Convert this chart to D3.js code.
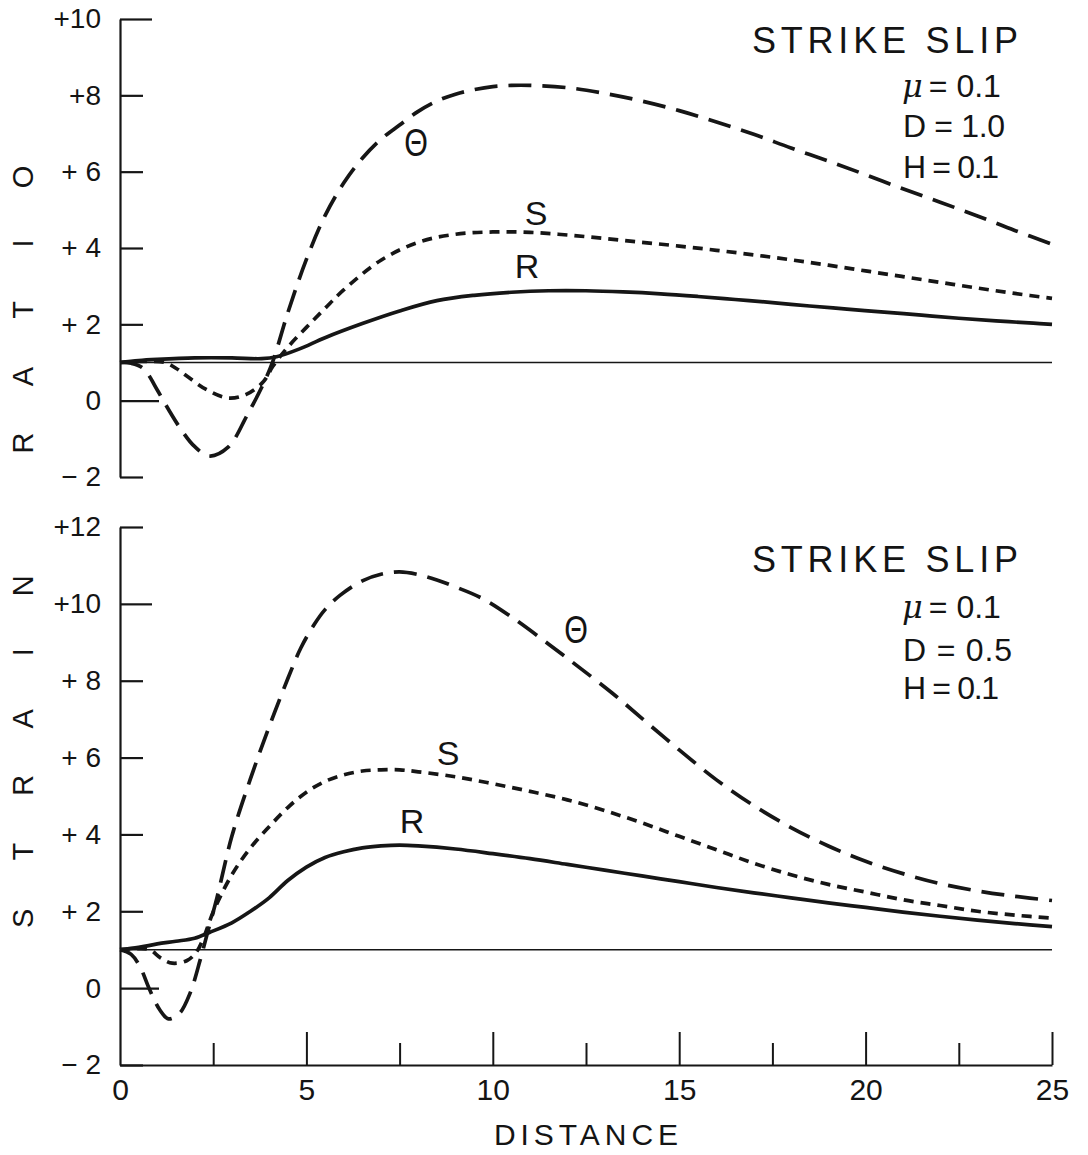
<!DOCTYPE html>
<html><head><meta charset="utf-8">
<script src="https://cdn.jsdelivr.net/npm/d3@7"></script>
<style>
body{margin:0;background:#fff}
svg{display:block}
text{font-family:"Liberation Sans",Arial,sans-serif;fill:#141414}
</style>
</head><body><svg id="c" width="1088" height="1155"></svg>
<script>
// ---------------- data ----------------
// top panel: D = 1.0
const topTheta = [[0,1.0],[0.3,0.98],[0.62,0.85],[1.0,0.28],[1.15,0.02],[1.6,-0.7],[2.0,-1.2],[2.4,-1.45],[2.9,-1.22],[3.4,-0.4],[3.85,0.45],[4.1,1.03],[4.5,2.3],[5.0,3.7],[5.5,4.85],[6.0,5.7],[6.5,6.35],[7.0,6.85],[7.5,7.22],[8.0,7.58],[8.5,7.85],[9.0,8.03],[9.5,8.15],[10.0,8.23],[10.5,8.26],[11.0,8.26],[12.0,8.2],[13.0,8.05],[14.0,7.85],[15.0,7.6],[16.0,7.3],[17.0,6.98],[18.0,6.62],[19.0,6.28],[20.0,5.92],[21.0,5.55],[22.0,5.2],[23.0,4.84],[24.0,4.46],[25.0,4.1]];
const topS = [[0,1.0],[0.6,1.03],[1.2,1.0],[1.5,0.85],[1.8,0.64],[2.3,0.3],[2.9,0.07],[3.4,0.17],[3.85,0.5],[4.1,0.9],[4.5,1.4],[5.0,1.92],[5.5,2.42],[6.0,2.9],[7.0,3.68],[8.0,4.15],[9.0,4.36],[10.0,4.42],[11.0,4.41],[12.0,4.34],[13.0,4.25],[14.0,4.15],[15.0,4.05],[16.0,3.94],[17.0,3.82],[18.0,3.69],[19.0,3.55],[20.0,3.4],[21.0,3.25],[22.0,3.1],[23.0,2.95],[24.0,2.81],[25.0,2.68]];
const topR = [[0,1.0],[0.5,1.05],[1.0,1.08],[2.0,1.12],[3.0,1.12],[3.8,1.1],[4.2,1.15],[4.8,1.35],[5.5,1.65],[6.5,2.02],[7.5,2.35],[8.5,2.62],[9.5,2.76],[10.5,2.84],[11.5,2.88],[12.5,2.88],[13.5,2.85],[14.5,2.8],[15.5,2.73],[16.5,2.65],[17.5,2.57],[18.5,2.48],[19.5,2.4],[20.5,2.32],[21.5,2.24],[22.5,2.16],[23.5,2.09],[24.5,2.03],[25.0,2.0]];
// bottom panel: D = 0.5
const botTheta = [[0,1.0],[0.3,0.88],[0.54,0.55],[0.8,-0.05],[1.07,-0.57],[1.3,-0.8],[1.6,-0.65],[1.88,-0.13],[2.15,0.73],[2.33,1.38],[2.6,2.35],[3.0,3.95],[3.5,5.45],[4.0,6.8],[4.5,8.05],[4.85,8.85],[5.2,9.45],[5.5,9.85],[5.9,10.22],[6.5,10.6],[7.0,10.77],[7.5,10.83],[8.0,10.76],[8.5,10.62],[9.0,10.44],[9.7,10.15],[10.5,9.66],[11.5,8.95],[12.3,8.36],[13.2,7.68],[14.0,7.02],[15.0,6.2],[16.0,5.42],[17.0,4.75],[18.0,4.18],[19.0,3.7],[20.0,3.3],[21.0,2.98],[22.0,2.72],[23.0,2.53],[24.0,2.39],[25.0,2.28]];
const botS = [[0,1.0],[0.5,1.03],[0.8,1.0],[1.1,0.78],[1.4,0.65],[1.8,0.72],[2.05,0.94],[2.25,1.33],[2.5,1.98],[3.0,2.95],[3.5,3.65],[4.0,4.2],[4.5,4.7],[5.0,5.1],[5.5,5.38],[6.0,5.55],[6.5,5.65],[7.0,5.68],[7.5,5.68],[8.0,5.63],[9.0,5.5],[10.0,5.32],[11.0,5.12],[12.0,4.9],[13.0,4.62],[14.0,4.3],[15.0,3.95],[16.0,3.6],[17.0,3.25],[18.0,2.95],[19.0,2.7],[20.0,2.5],[21.0,2.3],[22.0,2.15],[23.0,2.0],[24.0,1.9],[25.0,1.82]];
const botR = [[0,1.0],[0.5,1.06],[1.0,1.15],[1.5,1.22],[2.0,1.3],[2.4,1.45],[3.0,1.7],[3.5,2.0],[4.0,2.35],[4.5,2.8],[5.0,3.15],[5.5,3.4],[6.0,3.55],[6.5,3.65],[7.0,3.7],[7.5,3.72],[8.0,3.7],[9.0,3.62],[10.0,3.5],[11.0,3.37],[12.0,3.22],[13.0,3.07],[14.0,2.92],[15.0,2.77],[16.0,2.62],[17.0,2.48],[18.0,2.35],[19.0,2.22],[20.0,2.1],[21.0,1.98],[22.0,1.87],[23.0,1.77],[24.0,1.68],[25.0,1.6]];
const baselineValue = 1;

const xTicks = [0,2.5,5,7.5,10,12.5,15,17.5,20,22.5,25];
const xTickLabels = {0:"0",5:"5",10:"10",15:"15",20:"20",25:"25"};
const topYTicks = [-2,0,2,4,6,8,10];
const topYLabels = ["\u2212 2","0","+ 2","+ 4","+ 6","+8","+10"];
const botYTicks = [-2,0,2,4,6,8,10,12];
const botYLabels = ["\u2212 2","0","+ 2","+ 4","+ 6","+ 8","+10","+12"];
const titleWords = ["STRAIN","RATIO"];
const xTitle = "DISTANCE";
const panelTitle = "STRIKE SLIP";
const topParams = ["= 0.1","D = 1.0","H = 0.1"];
const botParams = ["= 0.1","D = 0.5","H = 0.1"];
const curveNames = ["\u0398","S","R"];

// ---------------- layout ----------------
const svg = d3.select("#c");
const ink = "#161616";
const x = d3.scaleLinear([0,25],[120,1052]);
const yTop = d3.scaleLinear([-2,10],[477,19]);
const yBot = d3.scaleLinear([-2,12],[1065,527]);
const tickLen = v => v===0 ? 39 : (v===10 ? 32 : 23);

function yAxis(scale, ticks, labels){
  const g = svg.append("g").attr("transform","translate(120,0)");
  g.call(d3.axisLeft(scale).tickValues(ticks).tickSizeInner(-23).tickSizeOuter(0).tickPadding(19)
      .tickFormat((d,i)=>labels[i]));
  g.select(".domain").attr("stroke",ink).attr("stroke-width",2.2);
  g.selectAll(".tick line").attr("stroke",ink).attr("stroke-width",2.2).attr("x2",d=>tickLen(d));
  g.selectAll(".tick text").attr("font-size",28).attr("fill",ink)
    .attr("font-family","'Liberation Sans',Arial,sans-serif");
}
yAxis(yTop, topYTicks, topYLabels);
yAxis(yBot, botYTicks, botYLabels);

// bottom x-axis
const gx = svg.append("g").attr("transform",`translate(0,${yBot(-2)})`);
gx.call(d3.axisBottom(x).tickValues(xTicks).tickSizeOuter(0).tickSizeInner(-22).tickPadding(14)
   .tickFormat(d=>xTickLabels[d]||""));
gx.select(".domain").attr("stroke",ink).attr("stroke-width",2.2);
gx.selectAll(".tick line").attr("stroke",ink).attr("stroke-width",2)
   .attr("y2",d=> (d%5===0) ? (d===0?0:-33) : -22);
gx.selectAll(".tick text").attr("font-size",30).attr("fill",ink)
   .attr("font-family","'Liberation Sans',Arial,sans-serif");

svg.append("text").attr("x",x(12.5)).attr("y",1145).attr("text-anchor","middle")
  .attr("font-size",30).attr("textLength",184).attr("lengthAdjust","spacing").text(xTitle);

// vertical title letters
const titleCenters = [752, 310];
titleWords.forEach((w,wi)=>{
  const n = w.length, pitch = 66.5;
  w.split("").forEach((ch,i)=>{
    const yy = titleCenters[wi] + ((n-1)/2 - i)*pitch;
    svg.append("text").attr("transform",`translate(23,${yy}) rotate(-90)`)
      .attr("text-anchor","middle").attr("dominant-baseline","central")
      .attr("font-size",29).text(ch);
  });
});

// curves
function drawPanel(scale, series, labelPos, titleY, paramYs, params, dLen){
  svg.append("line").attr("x1",x(0)).attr("x2",x(25))
    .attr("y1",scale(baselineValue)).attr("y2",scale(baselineValue))
    .attr("stroke",ink).attr("stroke-width",1.6);
  const line = d3.line().x(d=>x(d[0])).y(d=>scale(d[1])).curve(d3.curveCatmullRom.alpha(0.5));
  const dashes = ["23,11","10,7",null];
  series.forEach((s,i)=>{
    const p = svg.append("path").attr("d",line(s)).attr("fill","none")
      .attr("stroke",ink).attr("stroke-width",3.7).attr("stroke-linejoin","round");
    if(dashes[i]) p.attr("stroke-dasharray",dashes[i]);
  });
  // curve labels
  const th = labelPos[0];
  svg.append("text").attr("transform",`translate(${th[0]},${th[1]}) scale(0.8,1)`)
    .attr("text-anchor","middle").attr("dominant-baseline","central")
    .attr("font-size",38).text(curveNames[0]);
  [1,2].forEach(i=>{
    svg.append("text").attr("x",labelPos[i][0]).attr("y",labelPos[i][1])
      .attr("text-anchor","middle").attr("font-size",34).text(curveNames[i]);
  });
  svg.append("text").attr("x",752).attr("y",titleY).attr("font-size",36)
    .attr("textLength",266).attr("lengthAdjust","spacing").text(panelTitle);
  // parameters
  const mu = svg.append("text").attr("x",902).attr("y",paramYs[0]).attr("font-size",32);
  mu.append("tspan").attr("font-style","italic").attr("font-family","'DejaVu Serif',serif").text("\u03bc");
  mu.append("tspan").attr("dx",6).text(params[0]);
  svg.append("text").attr("x",903).attr("y",paramYs[1]).attr("font-size",32)
    .attr("textLength",dLen).attr("lengthAdjust","spacing").text(params[1]);
  svg.append("text").attr("x",903).attr("y",paramYs[2]).attr("font-size",32)
    .attr("textLength",96).attr("lengthAdjust","spacing").text(params[2]);
}
drawPanel(yTop,[topTheta,topS,topR],[[416,143],[536,225],[527,278]],53,[97,137,178],topParams,102);
drawPanel(yBot,[botTheta,botS,botR],[[576,630],[448,765],[412,833]],572,[618,661,699],botParams,109);
</script>
</body></html>
